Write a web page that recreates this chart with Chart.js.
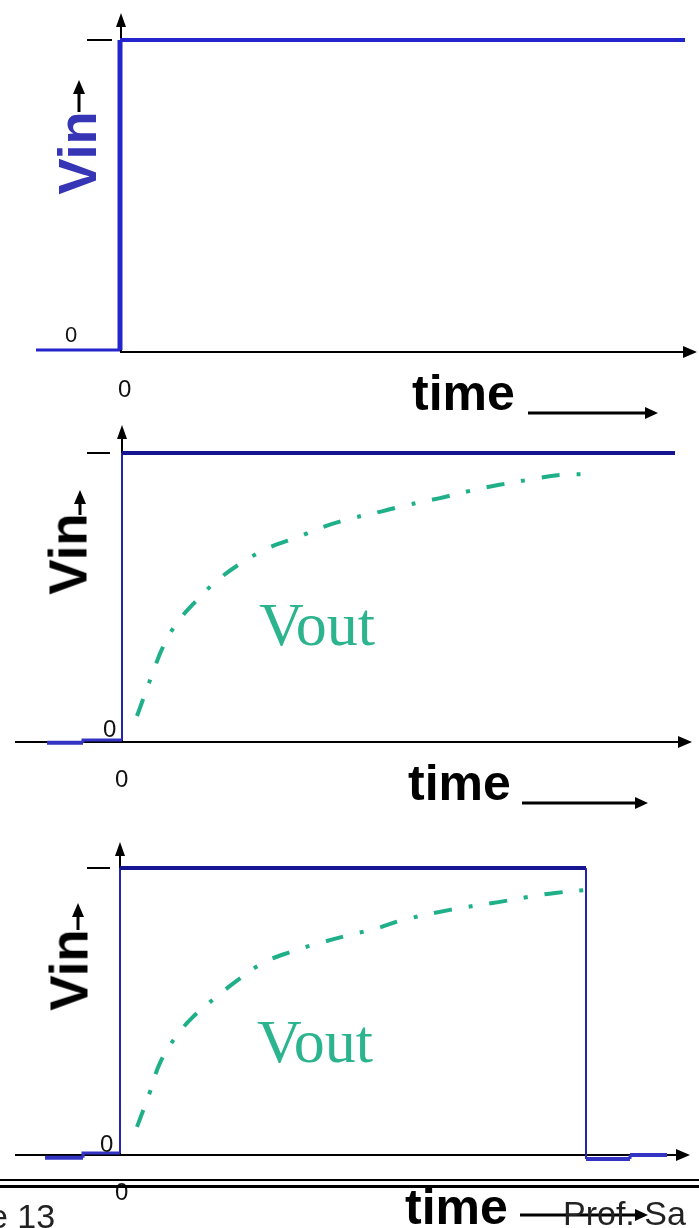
<!DOCTYPE html>
<html><head><meta charset="utf-8">
<script src="https://cdn.jsdelivr.net/npm/chart.js@4/dist/chart.umd.min.js"></script>
<style>
html,body{margin:0;padding:0;background:#fff;}
#wrap{position:relative;width:699px;height:1228px;overflow:hidden;background:#fff;}
canvas{position:absolute;left:0;z-index:1;}
.t{position:absolute;white-space:nowrap;line-height:1;z-index:2;}
.sans{font-family:"Liberation Sans",Arial,sans-serif;}
.serif{font-family:"Liberation Serif","Times New Roman",serif;}
.rot{transform:translate(-50%,-50%) rotate(-90deg);}
.rule{position:absolute;left:0;width:699px;background:#000;z-index:4;}
</style></head>
<body>
<div id="wrap">
  <canvas id="c1" width="699" height="420" style="top:0px;width:699px;height:420px"></canvas>
  <canvas id="c2" width="699" height="410" style="top:420px;width:699px;height:410px"></canvas>
  <canvas id="c3" width="699" height="398" style="top:830px;width:699px;height:398px"></canvas>

  <!-- panel 1 -->
  <div class="t sans rot" style="left:77px;top:153px;font-weight:bold;font-size:54px;color:#3535b5;">Vin</div>
  <div class="t sans" style="left:65px;top:324px;font-size:22px;color:#111;">0</div>
  <div class="t sans" style="left:118px;top:377px;font-size:24px;color:#111;">0</div>
  <div class="t sans" style="left:412px;top:368px;font-weight:bold;font-size:50px;color:#000;">time</div>

  <!-- panel 2 -->
  <div class="t sans rot" style="left:68px;top:554px;font-weight:bold;font-size:53px;color:#000;">Vin</div>
  <div class="t sans" style="left:103px;top:717px;font-size:24px;color:#111;">0</div>
  <div class="t sans" style="left:115px;top:767px;font-size:24px;color:#111;">0</div>
  <div class="t serif" style="left:259px;top:593px;font-size:62px;color:#2cb48e;">Vout</div>
  <div class="t sans" style="left:408px;top:758px;font-weight:bold;font-size:50px;color:#000;">time</div>

  <!-- panel 3 -->
  <div class="t sans rot" style="left:69px;top:970px;font-weight:bold;font-size:53px;color:#000;">Vin</div>
  <div class="t sans" style="left:100px;top:1132px;font-size:24px;color:#111;">0</div>
  <div class="t sans" style="left:115px;top:1180px;font-size:24px;color:#111;">0</div>
  <div class="t serif" style="left:257px;top:1010px;font-size:62px;color:#2cb48e;">Vout</div>
  <div class="t sans" style="left:405px;top:1182px;font-weight:bold;font-size:50px;color:#000;">time</div>
  <div class="t sans" style="left:563px;top:1196px;font-size:34px;color:#222;">Prof. Sa</div>
  <div class="t sans" style="left:-11px;top:1199px;font-size:34px;color:#222;">e 13</div>

  <div class="rule" style="top:1179px;height:2px;"></div>
  <div class="rule" style="top:1185px;height:3px;"></div>
</div>
<script>
// ---------- data (time units, Vin high = 1) ----------
const p1Time = [-0.84, 0, 0, 5.65];
const p1Vin  = [0, 0, 1, 1];

const p2Time = [-0.75, -0.39, -0.39, 0, 0, 5.53];
const p2Vin  = [-0.003, -0.003, 0.007, 0.007, 1, 1];
const p2VoutTime = [0.15, 0.30, 0.41, 0.55, 0.75, 0.96, 1.21, 1.46, 1.76, 2.01, 2.31, 2.61, 2.85, 3.18, 3.48, 3.76, 4.06, 4.38, 4.75];
const p2Vout     = [0.09, 0.232, 0.329, 0.412, 0.491, 0.561, 0.623, 0.671, 0.709, 0.744, 0.775, 0.799, 0.820, 0.844, 0.869, 0.889, 0.907, 0.924, 0.927];

const p3Time = [-0.75, -0.37, -0.37, 0, 0, 4.66, 4.66, 5.10, 5.10, 5.47];
const p3Vin  = [-0.010, -0.010, 0.007, 0.007, 1, 1, -0.014, -0.014, 0, 0];
const p3VoutTime = [0.17, 0.30, 0.40, 0.55, 0.73, 0.95, 1.18, 1.43, 1.70, 2.00, 2.30, 2.58, 2.83, 3.30, 3.80, 4.08, 4.35, 4.78];
const p3Vout     = [0.098, 0.220, 0.321, 0.408, 0.481, 0.547, 0.610, 0.669, 0.707, 0.739, 0.767, 0.791, 0.819, 0.854, 0.882, 0.899, 0.913, 0.927];

// ---------- styles ----------
const BRIGHT = '#2424cc', BASE = '#3434c4', RISE = '#2424b0', TOP = '#151592', TEAL = '#1fb08a';
const p1Widths = [3, 5, 4];
const p1Colors = [BRIGHT, BRIGHT, BRIGHT];
const p2Widths = [4, 3, 3, 2, 4];
const p2Colors = [BASE, BASE, BASE, RISE, TOP];
const p3Widths = [4, 3, 3, 2, 4, 2, 4, 3, 4];
const p3Colors = [BASE, BASE, BASE, RISE, TOP, RISE, BASE, BASE, BASE];

const zip = (xs, ys) => xs.map((x, i) => ({x, y: ys[i]}));

function arrowHead(ctx, tipX, tipY, dir, len, hw) {
  ctx.beginPath();
  if (dir === 'up') {
    ctx.moveTo(tipX, tipY); ctx.lineTo(tipX - hw, tipY + len); ctx.lineTo(tipX + hw, tipY + len);
  } else {
    ctx.moveTo(tipX, tipY); ctx.lineTo(tipX - len, tipY - hw); ctx.lineTo(tipX - len, tipY + hw);
  }
  ctx.closePath(); ctx.fill();
}
function seg(ctx, x1, y1, x2, y2) { ctx.beginPath(); ctx.moveTo(x1, y1); ctx.lineTo(x2, y2); ctx.stroke(); }

const decor = {
  id: 'decor',
  beforeDatasetsDraw(chart, args, o) {
    const ctx = chart.ctx, xs = chart.scales.x, ys = chart.scales.y;
    const x0 = xs.getPixelForValue(0) + o.yAxisDx;
    const y0 = ys.getPixelForValue(0) + o.axisDy;
    const yHi = ys.getPixelForValue(1);
    ctx.save();
    ctx.strokeStyle = '#000'; ctx.fillStyle = '#000'; ctx.lineWidth = 2;
    seg(ctx, xs.getPixelForValue(o.axisStartT), y0, o.axisTipX - 10, y0);
    arrowHead(ctx, o.axisTipX, y0, 'right', 14, 6);
    seg(ctx, x0, y0, x0, o.axisTipY + 10);
    arrowHead(ctx, x0, o.axisTipY, 'up', 14, 5);
    seg(ctx, o.tick[0], yHi, o.tick[1], yHi);
    ctx.lineWidth = 3;
    seg(ctx, o.vin.x, o.vin.base, o.vin.x, o.vin.tip + 10);
    arrowHead(ctx, o.vin.x, o.vin.tip, 'up', 14, 6);
    seg(ctx, o.time.x1, o.time.y, o.time.x2 - 10, o.time.y);
    arrowHead(ctx, o.time.x2, o.time.y, 'right', 13, 6);
    ctx.restore();
  }
};

function makeChart(id, height, x0px, yLowPx, yHighPx, datasets, decorOpts) {
  const PX = 100;
  const xmin = -x0px / PX, xmax = xmin + 699 / PX;
  const unit = yLowPx - yHighPx;
  const ymax = yLowPx / unit, ymin = ymax - height / unit;
  return new Chart(document.getElementById(id), {
    type: 'line',
    data: { datasets },
    options: {
      responsive: false, animation: false, devicePixelRatio: 1,
      layout: { padding: 0 },
      elements: { point: { radius: 0, hoverRadius: 0 } },
      scales: {
        x: { type: 'linear', display: false, min: xmin, max: xmax },
        y: { type: 'linear', display: false, min: ymin, max: ymax }
      },
      plugins: { legend: { display: false }, tooltip: { enabled: false }, decor: decorOpts },
      events: []
    },
    plugins: [decor]
  });
}

function vinSet(t, v, widths, colors) {
  return {
    data: zip(t, v), borderWidth: 3, borderColor: colors[0], tension: 0, fill: false,
    borderCapStyle: 'butt', borderJoinStyle: 'miter',
    segment: {
      borderWidth: c => widths[c.p0DataIndex],
      borderColor: c => colors[c.p0DataIndex]
    }
  };
}
function voutSet(t, v) {
  return {
    data: zip(t, v), borderWidth: 4, borderColor: TEAL, tension: 0.4, fill: false,
    borderDash: [18, 17, 4, 17], borderCapStyle: 'butt'
  };
}

makeChart('c1', 420, 120, 350, 40, [vinSet(p1Time, p1Vin, p1Widths, p1Colors)], {
  axisStartT: 0, axisDy: 2, yAxisDx: 1, axisTipX: 697, axisTipY: 13, tick: [87, 112],
  vin: { x: 79, tip: 80, base: 112 }, time: { x1: 528, x2: 658, y: 413 }
});
makeChart('c2', 410, 122, 322, 33, [voutSet(p2VoutTime, p2Vout), vinSet(p2Time, p2Vin, p2Widths, p2Colors)], {
  axisStartT: -1.07, axisDy: 0, yAxisDx: 0, axisTipX: 692, axisTipY: 5, tick: [87, 110],
  vin: { x: 80, tip: 70, base: 95 }, time: { x1: 522, x2: 648, y: 383 }
});
makeChart('c3', 398, 120, 325, 38, [voutSet(p3VoutTime, p3Vout), vinSet(p3Time, p3Vin, p3Widths, p3Colors)], {
  axisStartT: -1.05, axisDy: 0, yAxisDx: 0, axisTipX: 690, axisTipY: 12, tick: [87, 110],
  vin: { x: 78, tip: 73, base: 100 }, time: { x1: 520, x2: 648, y: 385 }
});
</script>
</body></html>
